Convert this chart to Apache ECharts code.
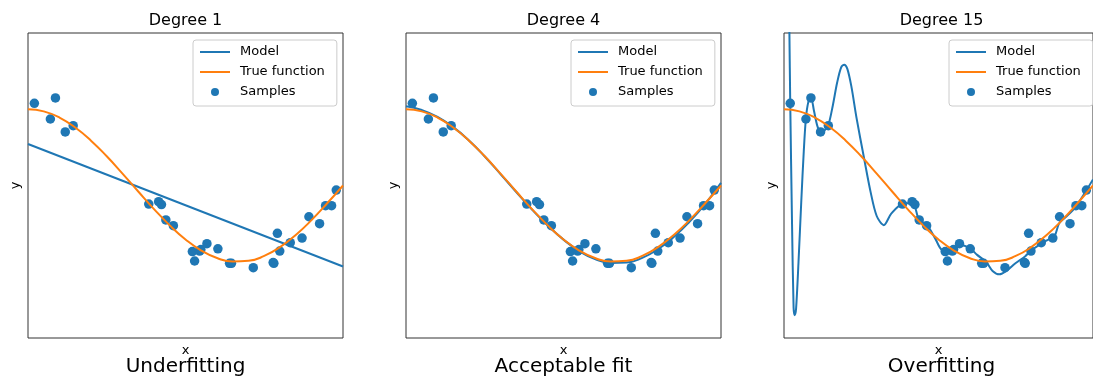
<!DOCTYPE html>
<html><head><meta charset="utf-8">
<script src="https://cdn.jsdelivr.net/npm/echarts@6/dist/echarts.min.js"></script>
<style>html,body{margin:0;padding:0;background:#fff}#c{width:1093px;height:380px}</style>
</head><body><div id="c"></div>
<script>
const panelTitles = ['Degree 1', 'Degree 4', 'Degree 15'];
const panelCaptions = ['Underfitting', 'Acceptable fit', 'Overfitting'];
const legendNames = ['Model', 'True function', 'Samples'];

const sampleX = [0.0202, 0.0710, 0.0871, 0.1183, 0.1434, 0.3834, 0.4147, 0.4237, 0.4376, 0.4615,
  0.5218, 0.5289, 0.5449, 0.5488, 0.5680, 0.6028, 0.6399, 0.6459, 0.7152, 0.7782,
  0.7805, 0.7917, 0.7992, 0.8326, 0.8700, 0.8918, 0.9256, 0.9447, 0.9637, 0.9786];
const sampleY = [1.078, 0.872, 1.148, 0.702, 0.785, -0.243, -0.212, -0.25, -0.452, -0.527,
  -0.867, -0.99, -0.86, -0.84, -0.763, -0.83, -1.02, -1.02, -1.078, -1.01,
  -1.02, -0.627, -0.86, -0.75, -0.69, -0.41, -0.50, -0.265, -0.265, -0.06];

const curveX = [0, 0.05, 0.10, 0.15, 0.20, 0.25, 0.30, 0.35, 0.40, 0.45, 0.50,
  0.55, 0.60, 0.65, 0.70, 0.75, 0.80, 0.85, 0.90, 0.95, 1.00];
const trueY = [1.0, 0.972, 0.891, 0.760, 0.588, 0.383, 0.156, -0.079, -0.309, -0.523, -0.707,
  -0.853, -0.951, -0.997, -0.988, -0.924, -0.809, -0.649, -0.454, -0.233, 0.0];

const deg1X = [0, 1];
const deg1Y = [0.544, -1.062];

const deg4Y = [1.04, 0.99, 0.90, 0.765, 0.59, 0.38, 0.15, -0.085, -0.315, -0.525, -0.71,
  -0.86, -0.965, -1.015, -1.01, -0.95, -0.835, -0.675, -0.475, -0.24, 0.035];

const deg15X = [0.000, 0.010, 0.0175, 0.0202, 0.026, 0.031, 0.0345, 0.039, 0.047, 0.056, 0.064,
  0.071, 0.079, 0.0871, 0.097, 0.108, 0.1183, 0.131, 0.1434, 0.158, 0.172, 0.185, 0.195,
  0.205, 0.218, 0.235, 0.259, 0.280, 0.300, 0.323, 0.347, 0.3834, 0.416, 0.437, 0.463,
  0.490, 0.511, 0.548, 0.569, 0.601, 0.625, 0.654, 0.675, 0.697, 0.720, 0.749, 0.780,
  0.802, 0.834, 0.860, 0.876, 0.890, 0.910, 0.940, 0.970, 1.000];
const deg15Y = [10, 4.5, 2.0, 1.08, -0.5, -1.6, -1.70, -1.62, -1.0, -0.2, 0.45,
  0.885, 1.10, 1.157, 0.98, 0.78, 0.70, 0.72, 0.79, 1.05, 1.35, 1.55, 1.585,
  1.53, 1.30, 0.88, 0.36, -0.08, -0.40, -0.52, -0.37, -0.24, -0.23, -0.45, -0.52,
  -0.70, -0.846, -0.87, -0.78, -0.82, -0.91, -1.0, -1.12, -1.165, -1.12, -1.02, -0.93,
  -0.846, -0.758, -0.70, -0.66, -0.50, -0.42, -0.30, -0.12, 0.08];

const FONT = 'DejaVu Sans';
const BLUE = '#1f77b4', ORANGE = '#ff7f0e';
const gridLefts = [28, 406, 784];
const gridW = 315, gridTop = 33, gridH = 305;

const zip = (xs, ys) => xs.map((x, i) => [x, ys[i]]);
const models = [zip(deg1X, deg1Y), zip(curveX, deg4Y), zip(deg15X, deg15Y)];
const modelSmooth = [false, true, 0.3];
const hiddenDot = {color: 'rgba(0,0,0,0)', borderColor: 'rgba(0,0,0,0)', borderWidth: 0, opacity: 0};

const grid = [], xAxis = [], yAxis = [], series = [], title = [], legend = [];
gridLefts.forEach((l, i) => {
  grid.push({left: l, top: gridTop, width: gridW, height: gridH, show: true,
    borderColor: '#333', borderWidth: 1, backgroundColor: '#fff', containLabel: false});
  xAxis.push({type: 'value', gridIndex: i, min: 0, max: 1, name: 'x', nameLocation: 'middle', nameGap: 6,
    nameTextStyle: {fontFamily: FONT, fontSize: 13, color: '#000'},
    axisLine: {show: false}, axisTick: {show: false}, axisLabel: {show: false}, splitLine: {show: false}});
  yAxis.push({type: 'value', gridIndex: i, min: -2, max: 2, name: 'y', nameLocation: 'middle', nameGap: 6,
    nameTextStyle: {fontFamily: FONT, fontSize: 13, color: '#000'},
    axisLine: {show: false}, axisTick: {show: false}, axisLabel: {show: false}, splitLine: {show: false}});
  series.push({name: 'Model', type: 'line', xAxisIndex: i, yAxisIndex: i, data: models[i],
    smooth: modelSmooth[i], symbol: 'none', clip: true, lineStyle: {color: BLUE, width: 2}, itemStyle: {color: BLUE}});
  series.push({name: 'True function', type: 'line', xAxisIndex: i, yAxisIndex: i, data: zip(curveX, trueY),
    smooth: true, symbol: 'none', clip: true, lineStyle: {color: ORANGE, width: 2}, itemStyle: {color: ORANGE}});
  series.push({name: 'Samples', type: 'scatter', xAxisIndex: i, yAxisIndex: i, data: zip(sampleX, sampleY),
    symbolSize: 9.5, itemStyle: {color: BLUE, opacity: 1}});
  const cx = l + gridW / 2;
  title.push({text: panelTitles[i], left: cx, top: 13, textAlign: 'center', padding: 0,
    textStyle: {fontFamily: FONT, fontSize: 16, fontWeight: 'normal', color: '#000'}});
  title.push({text: panelCaptions[i], left: cx, top: 357, textAlign: 'center', padding: 0,
    textStyle: {fontFamily: FONT, fontSize: 20, fontWeight: 'normal', color: '#000'}});
  legend.push({left: l + 165, top: 40, orient: 'vertical', itemWidth: 30, itemHeight: 8, itemGap: 4,
    padding: [4, 12, 6, 6], backgroundColor: 'rgba(255,255,255,0.8)', borderColor: '#cccccc',
    borderWidth: 1, borderRadius: 3, selectedMode: false,
    textStyle: {fontFamily: FONT, fontSize: 13, color: '#000', lineHeight: 16, padding: [0, 0, 0, 5]},
    data: [
      {name: legendNames[0], itemStyle: hiddenDot, lineStyle: {color: BLUE, width: 2}},
      {name: legendNames[1], itemStyle: hiddenDot, lineStyle: {color: ORANGE, width: 2}},
      {name: legendNames[2]}
    ]});
});

const chart = echarts.init(document.getElementById('c'), null, {renderer: 'canvas'});
chart.setOption({animation: false, backgroundColor: '#fff', grid, xAxis, yAxis, series, title, legend});
</script></body></html>
